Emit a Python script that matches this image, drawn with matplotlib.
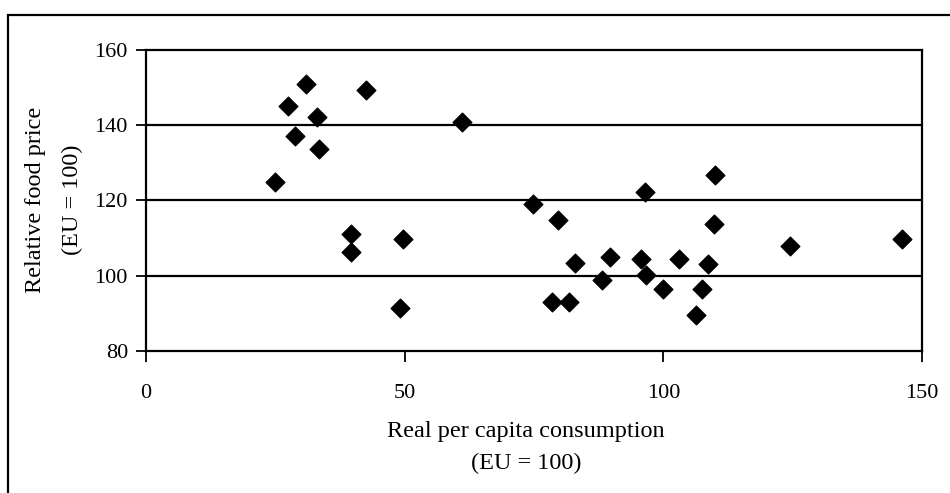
import matplotlib
matplotlib.use('Agg')
import matplotlib.pyplot as plt
from matplotlib.patches import Rectangle

consumo = [24.9, 27.5, 30.9, 28.8, 33.1, 33.4, 42.5, 61.0, 39.6, 39.6, 49.7, 49.1,
           74.8, 79.6, 82.9, 89.7, 95.7, 96.5, 109.7, 109.9, 103.1, 108.7, 124.4,
           146.1, 88.1, 96.7, 99.9, 107.4, 78.5, 81.8, 106.3]
precio = [125.0, 145.2, 151.0, 137.2, 142.3, 133.7, 149.4, 140.9, 111.2, 106.4, 109.7, 91.3,
          119.0, 114.8, 103.5, 105.0, 104.4, 122.2, 113.7, 126.8, 104.4, 103.1, 108.0,
          109.7, 98.8, 100.2, 96.4, 96.4, 93.1, 93.1, 89.5]
xticks = [0, 50, 100, 150]
yticks = [80, 100, 120, 140, 160]

plt.rcParams['font.family'] = ['Liberation Serif', 'DejaVu Serif']
W, H = 950, 493
fig = plt.figure(figsize=(W / 100, H / 100), dpi=100)

# marco exterior (cortado a la derecha y abajo)
fig.patches.append(Rectangle((7.5 / W, -0.05), 1.0, (H - 15) / H + 0.05, transform=fig.transFigure,
                             fill=False, edgecolor='black', linewidth=1.6))

ax = fig.add_axes([146 / W, (H - 351) / H, (922 - 146) / W, (351 - 50) / H])
ax.scatter(consumo, precio, marker='D', s=90, color='black', zorder=3)
ax.set_xlim(0, 150)
ax.set_ylim(80, 160)
ax.set_xticks(xticks)
ax.set_yticks(yticks)
for y in [100, 120, 140]:
    ax.axhline(y, color='black', linewidth=1.6, zorder=1)
for s in ax.spines.values():
    s.set_linewidth(1.6)
ax.tick_params(axis='y', length=7, width=1.3, pad=6, labelsize=16)
ax.tick_params(axis='x', length=8, width=1.3, pad=16, labelsize=16)

fig.text(36 / W, 1 - 200 / H, 'Relative food price', rotation=90, ha='center', va='center', fontsize=17.5)
fig.text(72 / W, 1 - 200 / H, '(EU = 100)', rotation=90, ha='center', va='center', fontsize=17.5)
fig.text(526 / W, 1 - 432 / H, 'Real per capita consumption', ha='center', va='center', fontsize=17.5)
fig.text(526 / W, 1 - 463 / H, '(EU = 100)', ha='center', va='center', fontsize=17.5)

fig.savefig('out.png', dpi=100)
